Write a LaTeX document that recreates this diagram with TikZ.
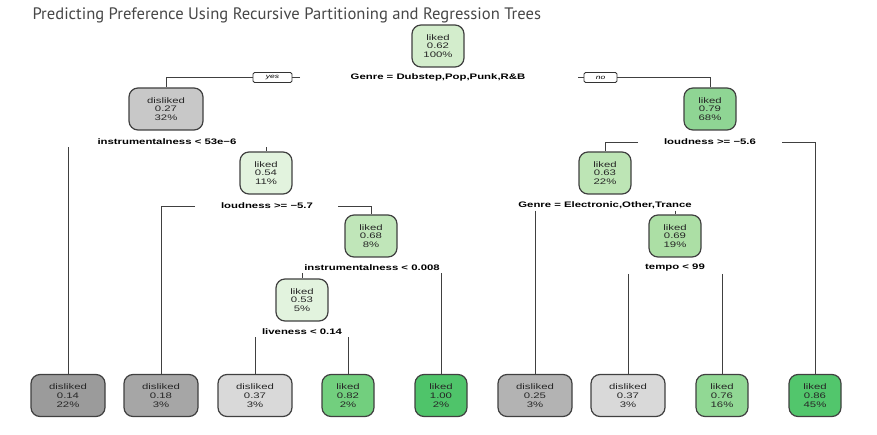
\documentclass[tikz,border=0pt]{standalone}
\usepackage{fontspec}
\setmainfont{Liberation Sans}
\newfontfamily\treefont[FakeStretch=1.42]{Liberation Sans}
\newfontfamily\titlefont{PT Sans}
\definecolor{dkA}{HTML}{9B9B9B}
\definecolor{dkB}{HTML}{A6A6A6}
\definecolor{dkC}{HTML}{D9D9D9}
\definecolor{dkD}{HTML}{B3B3B3}
\definecolor{dkE}{HTML}{C8C8C8}
\definecolor{lkA}{HTML}{D3EDCC}
\definecolor{lkB}{HTML}{E2F3DE}
\definecolor{lkC}{HTML}{C0E6B9}
\definecolor{lkD}{HTML}{8FD594}
\definecolor{lkE}{HTML}{BDE5B5}
\definecolor{lkF}{HTML}{ACDFA5}
\definecolor{lkG}{HTML}{72CF7E}
\definecolor{lkH}{HTML}{4FC46A}
\definecolor{lkI}{HTML}{91D894}
\definecolor{lkJ}{HTML}{52C66C}
\begin{document}
\begin{tikzpicture}[x=1pt,y=-1pt,
  tnode/.style={draw=black!75,line width=1.2pt,rounded corners=9pt,align=center,
    minimum height=42pt,inner sep=0pt,text=black!85,
    font=\treefont\fontsize{8}{8.7}\selectfont},
  dnode/.style={tnode,minimum width=74pt},
  lnode/.style={tnode,minimum width=52pt},
  splitlbl/.style={inner sep=2pt,font=\treefont\bfseries\fontsize{8}{9}\selectfont},
  yesno/.style={draw=black!80,line width=0.8pt,fill=white,rounded corners=1.5pt,
    minimum width=36pt,minimum height=10pt,inner sep=0pt,
    font=\treefont\itshape\fontsize{6}{6}\selectfont},
  edge/.style={draw=black!75,line width=0.9pt}]
\useasboundingbox (0,0) rectangle (877,435);
\node[anchor=base west,text=black!72,font=\titlefont\fontsize{16.6}{17}\selectfont] (title) at (29,19.5)
  {Predicting Preference Using Recursive Partitioning and Regression Trees};
% inner nodes
\node[lnode,fill=lkA] (n1) at (438,46) {liked\\0.62\\100\%};
\node[dnode,fill=dkE] (n2) at (166,109) {disliked\\0.27\\32\%};
\node[lnode,fill=lkD] (n3) at (710,109) {liked\\0.79\\68\%};
\node[lnode,fill=lkB] (n4) at (266,173) {liked\\0.54\\11\%};
\node[lnode,fill=lkC] (n5) at (371,236) {liked\\0.68\\8\%};
\node[lnode,fill=lkB] (n6) at (302,300) {liked\\0.53\\5\%};
\node[lnode,fill=lkE] (n7) at (605,173) {liked\\0.63\\22\%};
\node[lnode,fill=lkF] (n8) at (675,236) {liked\\0.69\\19\%};
% split labels
\node[splitlbl] (s1) at (438,77) {Genre = Dubstep,Pop,Punk,R\&B};
\node[splitlbl] (s2) at (167,142) {instrumentalness < 53e−6};
\node[splitlbl] (s3) at (710,142) {loudness >= −5.6};
\node[splitlbl] (s4) at (267,206) {loudness >= −5.7};
\node[splitlbl] (s5) at (372,268) {instrumentalness < 0.008};
\node[splitlbl] (s6) at (302,332) {liveness < 0.14};
\node[splitlbl] (s7) at (605,205) {Genre = Electronic,Other,Trance};
\node[splitlbl] (s8) at (675,268) {tempo < 99};
% leaves
\node[dnode,fill=dkA] (l1) at (68,395.5) {disliked\\0.14\\22\%};
\node[dnode,fill=dkB] (l2) at (161,395.5) {disliked\\0.18\\3\%};
\node[dnode,fill=dkC] (l3) at (255,395.5) {disliked\\0.37\\3\%};
\node[lnode,fill=lkG] (l4) at (348,395.5) {liked\\0.82\\2\%};
\node[lnode,fill=lkH] (l5) at (441,395.5) {liked\\1.00\\2\%};
\node[dnode,fill=dkD] (l6) at (535,395.5) {disliked\\0.25\\3\%};
\node[dnode,fill=dkC] (l7) at (628,395.5) {disliked\\0.37\\3\%};
\node[lnode,fill=lkI] (l8) at (722,395.5) {liked\\0.76\\16\%};
\node[lnode,fill=lkJ] (l9) at (815,395.5) {liked\\0.86\\45\%};
% yes / no
\node[yesno,minimum width=39pt] (yes) at (272.5,77.5) {yes};
\node[yesno,minimum width=33pt] (no) at (600.5,77.5) {no};
\coordinate (s1l) at (300,77.5);
\coordinate (s1r) at (578,77.5);
\coordinate (s3l) at (638,142);
\coordinate (s3r) at (782,142);
\coordinate (s4l) at (195,206);
\coordinate (s4r) at (338,206);
% connectors
\draw[edge] (s1l) -- (yes.east);
\draw[edge] (yes.west) -| (n2.north);
\draw[edge] (s1r) -- (no.west);
\draw[edge] (no.east) -| (n3.north);
\draw[edge] (l1.north |- s2.south) -- (l1.north);
\draw[edge] (n4.north |- s2.south) -- (n4.north);
\draw[edge] (s4l) -| (l2.north);
\draw[edge] (s4r) -| (n5.north);
\draw[edge] (n6.north |- s5.south) -- (n6.north);
\draw[edge] (l5.north |- s5.south) -- (l5.north);
\draw[edge] (l3.north |- s6.south) -- (l3.north);
\draw[edge] (l4.north |- s6.south) -- (l4.north);
\draw[edge] (s3l) -| (n7.north);
\draw[edge] (s3r) -| (l9.north);
\draw[edge] (l6.north |- s7.south) -- (l6.north);
\draw[edge] (n8.north |- s7.south) -- (n8.north);
\draw[edge] (l7.north |- s8.south) -- (l7.north);
\draw[edge] (l8.north |- s8.south) -- (l8.north);
\end{tikzpicture}
\end{document}
